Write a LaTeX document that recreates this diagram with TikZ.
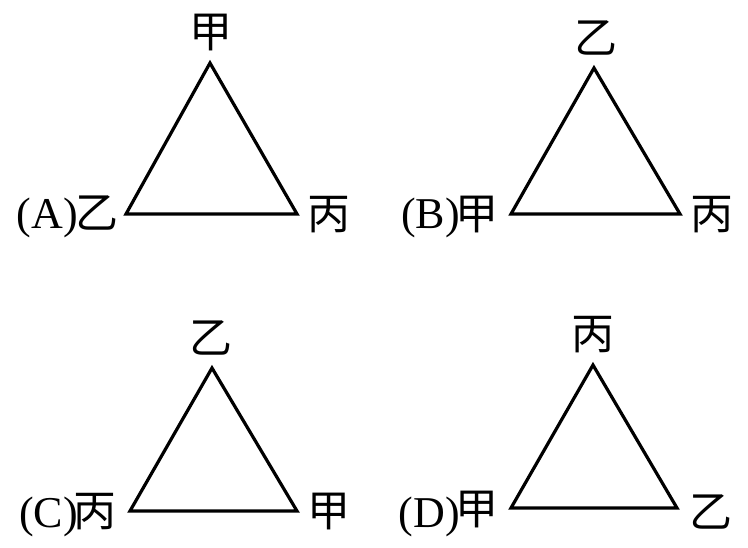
\documentclass[tikz,border=0pt]{standalone}
\usepackage{fontspec}
\setmainfont{Liberation Serif}
\newfontfamily\cjk{Noto Sans CJK SC}
\usetikzlibrary{positioning}
\tikzset{
    %Define style for the triangles
    tri/.style={
           draw=black,
           line width=3.2pt,
           line join=miter},
    %Define style for vertex labels
    zi/.style={
           font=\cjk\fontsize{43}{43}\selectfont,
           inner sep=0pt},
    % Define style for option letters
    opt/.style={
           font=\fontsize{44}{44}\selectfont,
           inner sep=0pt,
           anchor=east}
}
\begin{document}
\begin{tikzpicture}[x=1pt,y=-1pt]
\useasboundingbox (0,0) rectangle (748,547);
%Option A
\coordinate (a1) at (210,63);
\coordinate (a2) at (126,214);
\coordinate (a3) at (297,214);
\draw[tri] (a1) -- (a2) -- (a3) -- cycle;
\node[zi] (a1l) at (211,33) {甲};
\node[zi] (a2l) at (97,213) {乙};
\node[zi] (a3l) at (329,215) {丙};
\node[opt] (optA) at (78,218) {(A)};
%Option B
\coordinate (b1) at (594,68);
\coordinate (b2) at (511,214);
\coordinate (b3) at (680,214);
\draw[tri] (b1) -- (b2) -- (b3) -- cycle;
\node[zi] (b1l) at (596,38) {乙};
\node[zi] (b2l) at (477,215) {甲};
\node[zi] (b3l) at (712,215) {丙};
\node[opt] (optB) at (460,218) {(B)};
%Option C
\coordinate (c1) at (212,368);
\coordinate (c2) at (130,511);
\coordinate (c3) at (297,511);
\draw[tri] (c1) -- (c2) -- (c3) -- cycle;
\node[zi] (c1l) at (211,338) {乙};
\node[zi] (c2l) at (95,512) {丙};
\node[zi] (c3l) at (329,512) {甲};
\node[opt] (optC) at (78,517) {(C)};
%Option D
\coordinate (d1) at (593,365);
\coordinate (d2) at (511,508);
\coordinate (d3) at (677,508);
\draw[tri] (d1) -- (d2) -- (d3) -- cycle;
\node[zi] (d1l) at (593,335) {丙};
\node[zi] (d2l) at (477,510) {甲};
\node[zi] (d3l) at (711,512) {乙};
\node[opt] (optD) at (460,517) {(D)};
\end{tikzpicture}
\end{document}
